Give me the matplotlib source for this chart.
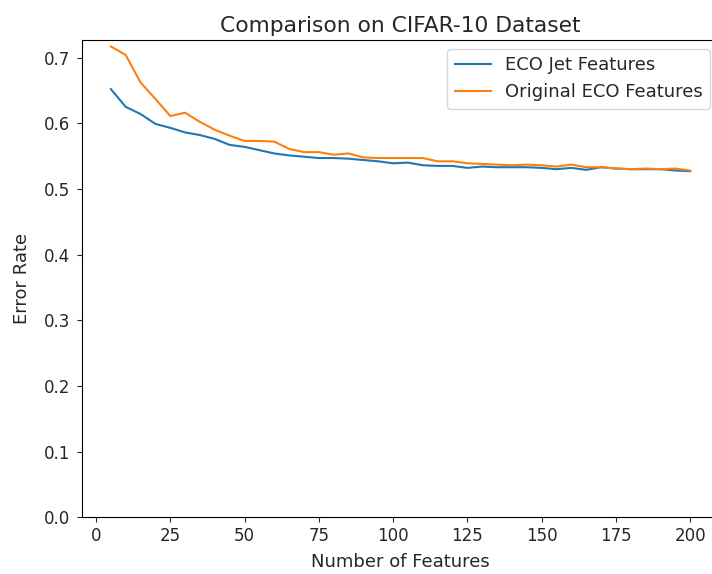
import matplotlib
matplotlib.use('Agg')
import numpy as np
import matplotlib.pyplot as plt

# number of features used
num_features = list(range(5, 205, 5))

# error rates
jet_error = [0.652, 0.625, 0.614, 0.599, 0.593, 0.586, 0.582, 0.576, 0.567, 0.564,
             0.559, 0.554, 0.551, 0.549, 0.547, 0.547, 0.546, 0.544, 0.542, 0.539,
             0.540, 0.536, 0.535, 0.535, 0.532, 0.534, 0.533, 0.533, 0.533, 0.532,
             0.530, 0.532, 0.529, 0.533, 0.531, 0.530, 0.530, 0.530, 0.528, 0.527]
orig_error = [0.717, 0.704, 0.662, 0.637, 0.611, 0.616, 0.602, 0.590, 0.581, 0.573,
              0.573, 0.572, 0.561, 0.556, 0.556, 0.552, 0.554, 0.548, 0.547, 0.547,
              0.547, 0.547, 0.542, 0.542, 0.539, 0.538, 0.537, 0.536, 0.537, 0.536,
              0.534, 0.537, 0.533, 0.533, 0.531, 0.530, 0.531, 0.530, 0.531, 0.528]

fig = plt.figure(figsize=(7.12, 5.74), dpi=100)
# the right edge of the axes runs off the figure, as in the original crop
ax = fig.add_axes([0.115, 0.099, 0.895, 0.831])
ax.plot(num_features, jet_error, label='ECO Jet Features')
ax.plot(num_features, orig_error, label='Original ECO Features')
ax.set_ylim(bottom=0)
ax.spines['right'].set_visible(False)
ax.tick_params(labelsize=12, colors='#262626', labelcolor='#262626')
ax.tick_params(axis='y', pad=5)
ax.set_title('Comparison on CIFAR-10 Dataset', fontsize=15.7, color='#262626')
ax.set_xlabel('Number of Features', fontsize=13, labelpad=6, color='#262626')
ax.set_ylabel('Error Rate', fontsize=13, labelpad=9, color='#262626')
leg = ax.legend(loc='upper right', prop={'size': 13})
for t in leg.get_texts():
    t.set_color('#262626')
fig.savefig('out.png', dpi=100)
